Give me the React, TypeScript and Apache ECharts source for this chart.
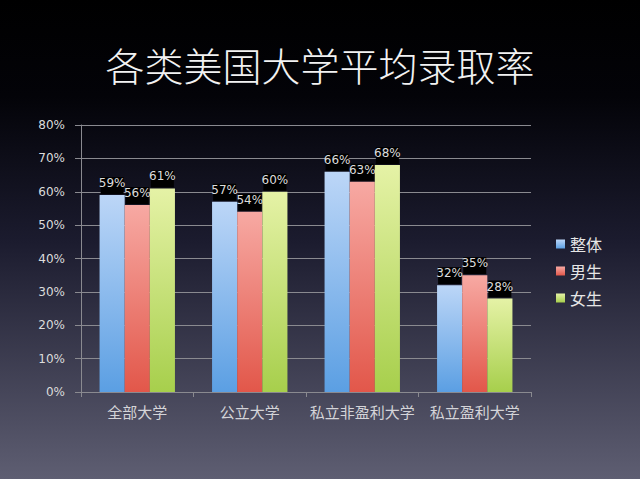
import React, { useEffect, useRef } from "react";
import * as echarts from "echarts";

const categories = ["全部大学", "公立大学", "私立非盈利大学", "私立盈利大学"];
const overall = [59, 57, 66, 32];
const male = [56, 54, 63, 35];
const female = [61, 60, 68, 28];
const seriesNames = ["整体", "男生", "女生"];
const titleText = "各类美国大学平均录取率";

const grad = (top: string, bottom: string) =>
  new echarts.graphic.LinearGradient(0, 0, 0, 1, [
    { offset: 0, color: top },
    { offset: 1, color: bottom },
  ]);

export default function App() {
  const ref = useRef<HTMLDivElement>(null);
  useEffect(() => {
    if (!ref.current) return;
    const chart = echarts.init(ref.current, null, { renderer: "svg" });
    const label = {
      show: true,
      position: "top",
      distance: 1,
      formatter: "{c}%",
      color: "#dcdcdc",
      fontSize: 12,
      fontFamily: "DejaVu Sans",
      backgroundColor: "#000",
      width: 23,
      align: "center",
      overflow: "none",
      padding: [0, 0, 5, 0],
    };
    const colors = [
      ["#bcd6f7", "#5b9fe3"],
      ["#f7a9a3", "#e2574a"],
      ["#e5f2a6", "#a7cf4c"],
    ];
    const datas = [overall, male, female];
    chart.setOption({
      animation: false,
      backgroundColor: new echarts.graphic.LinearGradient(0, 0, 0, 1, [
        { offset: 0, color: "#000000" },
        { offset: 0.2, color: "#030308" },
        { offset: 0.5, color: "#1b1b2e" },
        { offset: 1, color: "#5e5e72" },
      ]),
      title: {
        text: titleText,
        left: "center",
        top: 39,
        textStyle: {
          color: "#f2f2f2",
          fontSize: 39,
          fontWeight: 300,
          fontFamily: "Noto Sans CJK SC",
        },
      },
      legend: {
        orient: "vertical",
        left: 551,
        top: 231,
        itemWidth: 9,
        itemHeight: 9,
        itemGap: 11,
        icon: "rect",
        data: seriesNames,
        textStyle: {
          color: "#e6e6e6",
          fontSize: 16,
          fontFamily: "Noto Sans CJK SC",
        },
      },
      grid: { left: 81, right: 109, top: 125, bottom: 87, containLabel: false },
      xAxis: {
        type: "category",
        data: categories,
        axisLine: { show: true, lineStyle: { color: "#8a8a90", width: 1 } },
        axisTick: { show: true, length: 5, lineStyle: { color: "#8a8a90" } },
        axisLabel: {
          color: "#d4d4d8",
          fontSize: 15,
          margin: 12,
          fontFamily: "Noto Sans CJK SC",
          interval: 0,
        },
      },
      yAxis: {
        type: "value",
        min: 0,
        max: 80,
        interval: 10,
        axisLine: { show: true, lineStyle: { color: "#8a8a90", width: 1 } },
        axisTick: { show: true, length: 6, lineStyle: { color: "#8a8a90" } },
        splitLine: { show: true, lineStyle: { color: "#8a8a90", width: 1 } },
        axisLabel: {
          formatter: "{value}%",
          color: "#dcdcdc",
          fontSize: 12,
          margin: 16,
          fontFamily: "DejaVu Sans",
        },
      },
      series: seriesNames.map((name, i) => ({
        name,
        type: "bar",
        data: datas[i],
        barGap: "0%",
        barCategoryGap: "33%",
        itemStyle: { color: grad(colors[i][0], colors[i][1]) },
        label,
      })),
    });
    return () => chart.dispose();
  }, []);
  return (
    <div
      ref={ref}
      style={{ position: "absolute", left: 0, top: 0, width: 640, height: 479 }}
    />
  );
}
